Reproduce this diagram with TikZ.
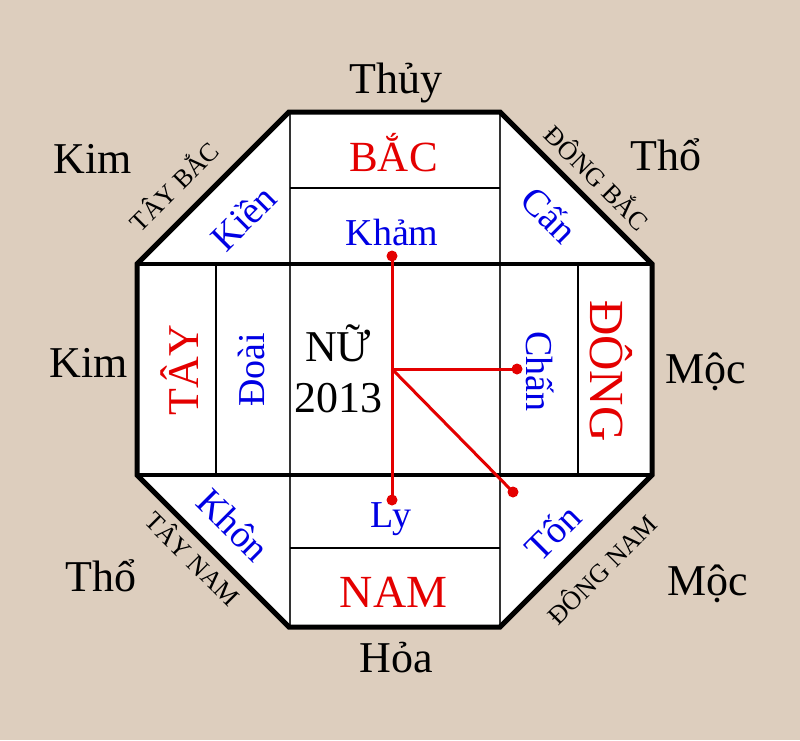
\documentclass[tikz,border=0pt]{standalone}
\usepackage{fontspec}
\setmainfont{Liberation Serif}
\definecolor{bg}{RGB}{221,206,190}
\definecolor{rd}{RGB}{228,0,0}
\definecolor{bl}{RGB}{0,0,228}
\begin{document}
\begin{tikzpicture}[x=1pt,y=-1pt,
  elem/.style={font=\fontsize{44}{50}\selectfont, inner sep=0pt, anchor=base},
  dirlab/.style={font=\fontsize{#1}{50}\selectfont, text=rd, inner sep=0pt},
  gua/.style={font=\fontsize{38}{44}\selectfont, text=bl, inner sep=0pt},
  sublab/.style={font=\fontsize{26}{30}\selectfont, inner sep=0pt},
  reddot/.style={circle, fill=rd, inner sep=0pt, minimum size=11pt},
  link/.style={rd, line width=3pt},
  cellline/.style={line width=2pt},
  midline/.style={line width=1.5pt, black!80},
  bandline/.style={line width=4pt},
  rim/.style={line width=5pt, line join=miter}
]
\fill[bg] (0,0) rectangle (800,740);
\useasboundingbox (0,0) rectangle (800,740);
% octagon vertices
\coordinate (o1) at (289,112);
\coordinate (o2) at (500,112);
\coordinate (o3) at (652,264);
\coordinate (o4) at (652,475);
\coordinate (o5) at (500,627);
\coordinate (o6) at (289,627);
\coordinate (o7) at (137,475);
\coordinate (o8) at (137,264);
\fill[white] (o1) -- (o2) -- (o3) -- (o4) -- (o5) -- (o6) -- (o7) -- (o8) -- cycle;
% inner grid
\draw[midline] (290,112) -- (290,627);
\draw[midline] (500,112) -- (500,627);
\draw[cellline] (290,188) -- (500,188);
\draw[cellline] (290,548) -- (500,548);
\draw[cellline] (216,264) -- (216,475);
\draw[cellline] (578,264) -- (578,475);
\draw[bandline] (o8) -- (o3);
\draw[bandline] (o7) -- (o4);
\draw[rim] (o1) -- (o2) -- (o3) -- (o4) -- (o5) -- (o6) -- (o7) -- (o8) -- cycle;
% elements
\node[elem] (thuy) at (396,93) {Thủy};
\node[elem] (kim1) at (93,173) {Kim};
\node[elem] (tho1) at (666,170) {Thổ};
\node[elem] (kim2) at (89,377) {Kim};
\node[elem] (moc1) at (706,383) {Mộc};
\node[elem] (tho2) at (101,591) {Thổ};
\node[elem] (moc2) at (708,595) {Mộc};
\node[elem] (hoa) at (396,672) {Hỏa};
% directions
\node[dirlab=43, anchor=base] (bac) at (393.5,171) {BẮC};
\node[dirlab=46, anchor=base] (nam) at (393.5,607) {NAM};
\node[dirlab=44, rotate=90] (tay) at (179.5,370) {TÂY};
\node[dirlab=49, rotate=-90] (dong) at (611,371) {ĐÔNG};
% trigrams
\node[gua, anchor=base] (kham) at (392,245) {Khảm};
\node[gua, anchor=base] (ly) at (391,527) {Ly};
\node[gua, rotate=90] (doai) at (251,369.5) {Đoài};
\node[gua, rotate=-90] (chan) at (540.5,371.5) {Chấn};
\node[gua, rotate=45] (kien) at (243,217.5) {Kiền};
\node[gua, rotate=-45] (can) at (550,215) {Cấn};
\node[gua, rotate=-45] (khon) at (233.5,525) {Khôn};
\node[gua, rotate=45] (ton) at (552.5,532) {Tốn};
% corner labels
\node[sublab, rotate=45] (tb) at (173,185) {TÂY BẮC};
\node[sublab, rotate=-45] (db) at (598.5,176.5) {ĐÔNG BẮC};
\node[sublab, rotate=-45] (tn) at (194,557.5) {TÂY NAM};
\node[sublab, rotate=45] (dn) at (601,568.5) {ĐÔNG NAM};
% centre
\node[elem] (nu) at (338,361) {NỮ};
\node[elem] (yr) at (338,412) {2013};
% red links
\coordinate (hub) at (392,369);
\node[reddot] (dk) at (392,256) {};
\node[reddot] (dl) at (392,500) {};
\node[reddot] (dc) at (517,369) {};
\node[reddot] (dt) at (513,492) {};
\draw[link] (dk.center) -- (dl.center);
\draw[link] (hub) -- (dc.center);
\draw[link] (hub) -- (dt.center);
\end{tikzpicture}
\end{document}
